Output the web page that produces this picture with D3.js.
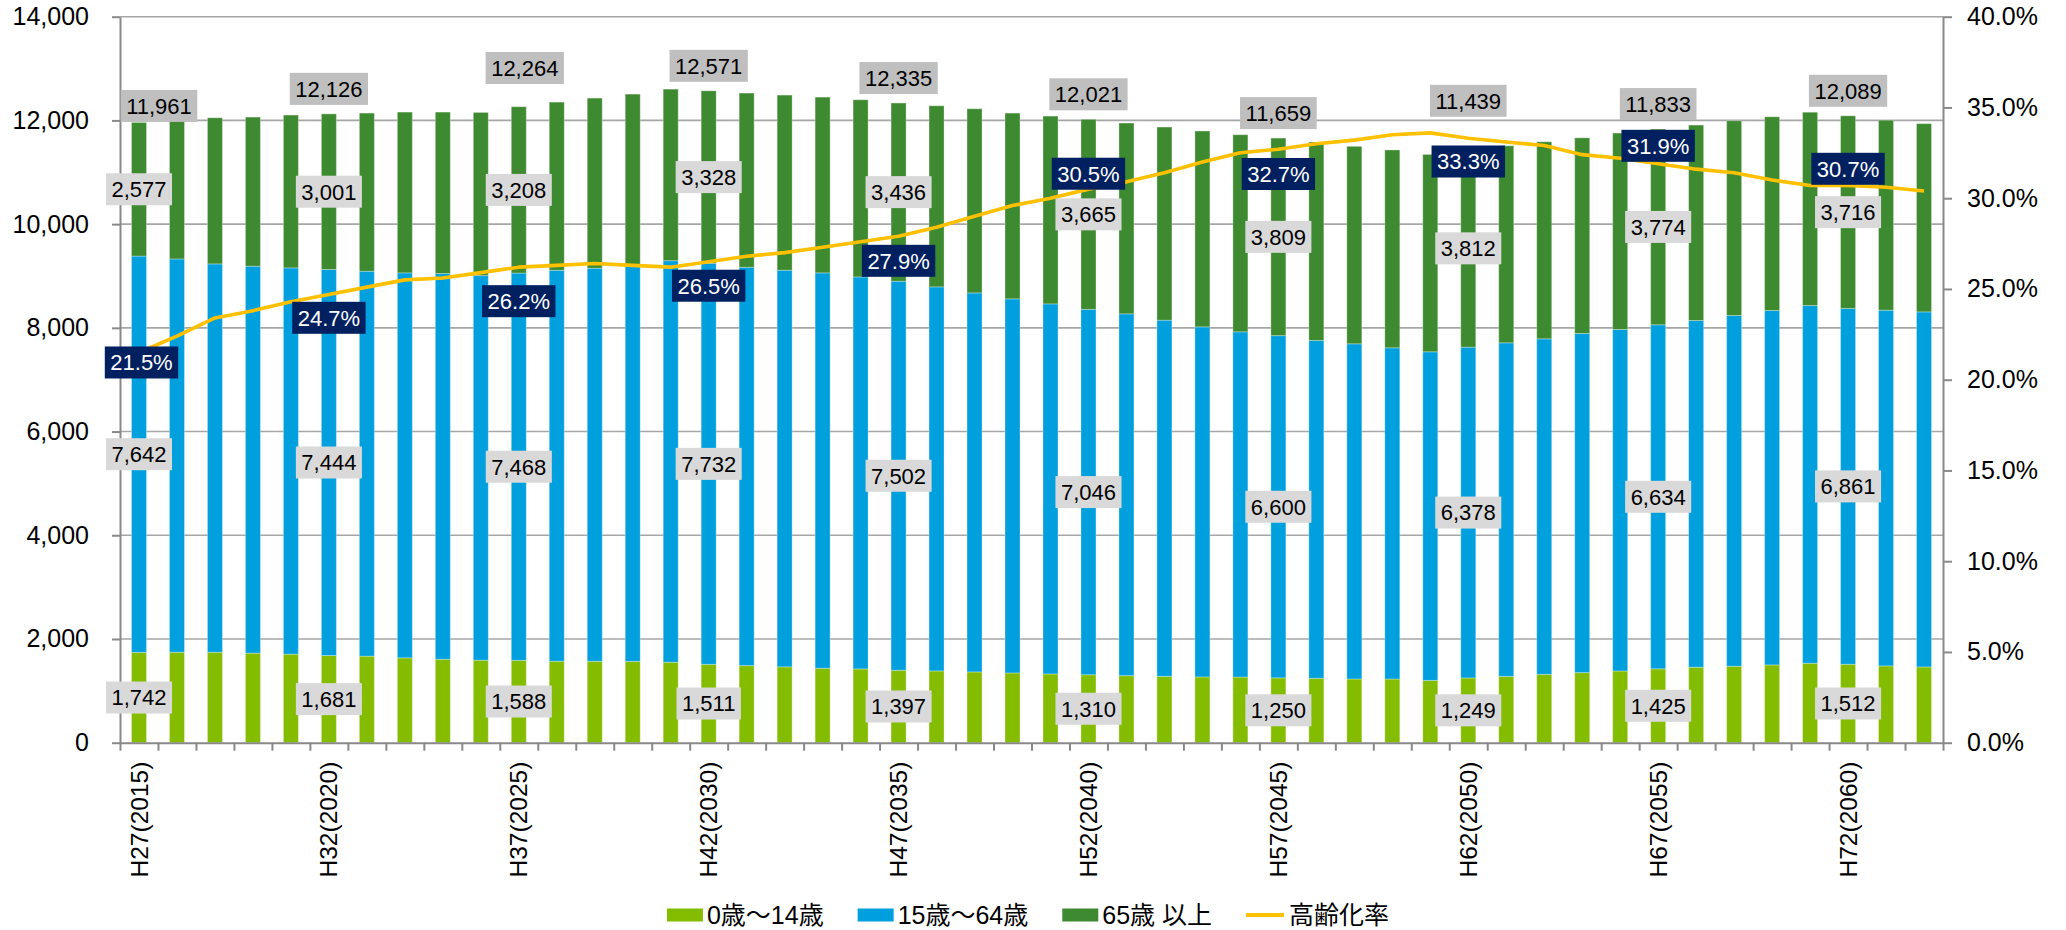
<!DOCTYPE html>
<html>
<head>
<meta charset="utf-8">
<script src="https://cdn.jsdelivr.net/npm/d3@7"></script>
<style>
  body { margin: 0; background: #fff; }
  text { font-family: "Liberation Sans", Arial, "Noto Sans CJK JP", sans-serif; }
</style>
</head>
<body>
<div id="chart"></div>
<script>
// data (people / %)
var years = [2015, 2016, 2017, 2018, 2019, 2020, 2021, 2022, 2023, 2024,
             2025, 2026, 2027, 2028, 2029, 2030, 2031, 2032, 2033, 2034,
             2035, 2036, 2037, 2038, 2039, 2040, 2041, 2042, 2043, 2044,
             2045, 2046, 2047, 2048, 2049, 2050, 2051, 2052, 2053, 2054,
             2055, 2056, 2057, 2058, 2059, 2060, 2061, 2062];

var age0to14 = [1742, 1745, 1745, 1727, 1708, 1681, 1669, 1636, 1610, 1591,
                1588, 1571, 1570, 1568, 1552, 1511, 1487, 1462, 1436, 1423,
                1397, 1384, 1365, 1345, 1326, 1310, 1293, 1280, 1268, 1266,
                1250, 1242, 1229, 1228, 1201, 1249, 1279, 1318, 1351, 1383,
                1425, 1455, 1474, 1500, 1532, 1512, 1481, 1461];

var age15to64 = [7642, 7584, 7488, 7461, 7448, 7444, 7423, 7424, 7437, 7417,
                 7468, 7539, 7580, 7634, 7743, 7732, 7682, 7649, 7624, 7559,
                 7502, 7406, 7309, 7214, 7136, 7046, 6977, 6868, 6751, 6657,
                 6600, 6514, 6463, 6387, 6337, 6378, 6432, 6470, 6540, 6585,
                 6634, 6686, 6764, 6834, 6898, 6861, 6859, 6847];

var age65over = [2577, 2670, 2818, 2876, 2947, 3001, 3049, 3100, 3113, 3146,
                 3208, 3243, 3280, 3305, 3308, 3328, 3358, 3377, 3389, 3416,
                 3436, 3492, 3551, 3582, 3621, 3665, 3679, 3724, 3776, 3801,
                 3809, 3827, 3808, 3815, 3806, 3812, 3800, 3800, 3773, 3788,
                 3774, 3769, 3755, 3736, 3728, 3716, 3664, 3630];

var agingRate = [21.5, 22.4, 23.4, 23.8, 24.3, 24.7, 25.1, 25.5, 25.6, 25.9,
                 26.2, 26.3, 26.4, 26.3, 26.2, 26.5, 26.8, 27.0, 27.3, 27.6,
                 27.9, 28.4, 29.0, 29.6, 30.0, 30.5, 30.9, 31.4, 32.0, 32.5,
                 32.7, 33.0, 33.2, 33.5, 33.6, 33.3, 33.1, 32.9, 32.4, 32.2,
                 31.9, 31.6, 31.4, 31.0, 30.7, 30.7, 30.6, 30.4];

// every fifth year gets an axis label and data labels
var labelYears = [2015, 2020, 2025, 2030, 2035, 2040, 2045, 2050, 2055, 2060];
var tickLabels = ["H27(2015)", "H32(2020)", "H37(2025)", "H42(2030)", "H47(2035)",
                  "H52(2040)", "H57(2045)", "H62(2050)", "H67(2055)", "H72(2060)"];

var seriesNames = ["0歳～14歳", "15歳～64歳", "65歳 以上", "高齢化率"];
var leftTicks = [0, 2000, 4000, 6000, 8000, 10000, 12000, 14000];
var rightTicks = [0, 0.05, 0.10, 0.15, 0.20, 0.25, 0.30, 0.35, 0.40];

// hand-moved labels (offsets from default spot, px)
var totalLabelDx = [20, 0, 6, 0, 0, 0, 0, 0, 0, 0];
var totalLabelDy = [-16.5, -25, -38.7, -25, -25, -25, -25, -48.7, -25, -25];
var rateLabelDx = [2.5, 0, 0, 0, 0, 0, 0, 0, 0, 0];
var rateLabelDy = [10, 23.4, 34, 24, 24.5, -15.4, 24.8, 23.2, -17.9, -16.7];

var colors = {a0: "#84BD00", a15: "#00A0DF", a65: "#3E8A30", rate: "#FFC000"};

// Step 1: svg canvas
var svgWidth = 2066;
var svgHeight = 930;
var margin = {top: 16.7, right: 123, bottom: 187.3, left: 120};
var width = svgWidth - margin.left - margin.right;
var height = svgHeight - margin.top - margin.bottom;

var svg = d3.select("#chart").append("svg")
  .attr("width", svgWidth)
  .attr("height", svgHeight);

var chartGroup = svg.append("g")
  .attr("transform", `translate(${margin.left}, ${margin.top})`);

// Step 2: table for the stack
var table = years.map(function(yr, i) {
  return {year: yr, a0: age0to14[i], a15: age15to64[i], a65: age65over[i], rate: agingRate[i]};
});
var stacked = d3.stack().keys(["a0", "a15", "a65"])(table);

// Step 3: scales
var xBand = d3.scaleBand().domain(years).range([0, width])
  .paddingInner(0.605).paddingOuter(0.3025);
var xIdx = d3.scaleLinear().domain([0, years.length]).range([0, width]);
var yLeft = d3.scaleLinear().domain([0, 14000]).range([height, 0]);
var yRight = d3.scaleLinear().domain([0, 0.4]).range([height, 0]);
var cx = d => xBand(d) + xBand.bandwidth() / 2;

// gridlines
chartGroup.append("g").selectAll("line")
  .data(leftTicks.slice(1))
  .enter().append("line")
  .attr("x1", 0).attr("x2", width)
  .attr("y1", d => yLeft(d)).attr("y2", d => yLeft(d))
  .attr("stroke", "#A6A6A6").attr("stroke-width", 1.6);

// Step 4: bars
chartGroup.append("g").selectAll("g")
  .data(stacked)
  .enter().append("g")
  .attr("fill", d => colors[d.key])
  .selectAll("rect")
  .data(d => d)
  .enter().append("rect")
  .attr("x", d => xBand(d.data.year))
  .attr("width", xBand.bandwidth())
  .attr("y", d => yLeft(d[1]))
  .attr("height", d => yLeft(d[0]) - yLeft(d[1]))
  .attr("stroke", "rgba(255,255,255,0.3)")
  .attr("stroke-width", 1);

// Step 5: axes
function styleAxis(g) {
  g.select(".domain").attr("stroke", "#898989").attr("stroke-width", 2);
  g.selectAll(".tick line").attr("stroke", "#898989").attr("stroke-width", 2);
  g.selectAll("text").attr("fill", "#000").attr("font-size", 25)
    .attr("font-family", '"Liberation Sans", Arial, sans-serif');
}

chartGroup.append("g")
  .call(d3.axisLeft(yLeft).tickValues(leftTicks).tickFormat(d3.format(","))
    .tickSize(8).tickSizeOuter(0).tickPadding(23))
  .call(styleAxis);

chartGroup.append("g")
  .attr("transform", `translate(${width}, 0)`)
  .call(d3.axisRight(yRight).tickValues(rightTicks).tickFormat(d3.format(".1%"))
    .tickSize(9).tickSizeOuter(0).tickPadding(15))
  .call(styleAxis);

chartGroup.append("g")
  .attr("transform", `translate(0, ${height})`)
  .call(d3.axisBottom(xIdx).tickValues(d3.range(years.length + 1)).tickFormat("")
    .tickSize(8).tickSizeOuter(0))
  .call(styleAxis);

// rotated category labels
chartGroup.append("g").selectAll("text")
  .data(labelYears)
  .enter().append("text")
  .attr("transform", d => `translate(${cx(d)}, ${height + 19}) rotate(-90)`)
  .attr("dy", "0.35em")
  .attr("text-anchor", "end")
  .attr("font-size", 24.5)
  .attr("fill", "#000")
  .text((d, i) => tickLabels[i]);

// Step 6: rate line
var rateLine = d3.line()
  .x(d => cx(d.year))
  .y(d => yRight(d.rate / 100));

chartGroup.append("path")
  .datum(table)
  .attr("d", rateLine)
  .attr("fill", "none")
  .attr("stroke", colors.rate)
  .attr("stroke-width", 3.6)
  .attr("stroke-linejoin", "round");

// Step 7: data labels (grey / navy boxes)
var labelLayer = chartGroup.append("g");
var fmt = d3.format(",");

function boxLabel(x0, y0, txt, fill, color) {
  var g = labelLayer.append("g").attr("transform", `translate(${x0}, ${y0})`);
  var rect = g.append("rect");
  var t = g.append("text")
    .attr("text-anchor", "middle")
    .attr("dy", "0.36em")
    .attr("font-size", 22)
    .attr("fill", color)
    .text(txt);
  var w = t.node().getComputedTextLength() + 11;
  rect.attr("x", -w / 2).attr("y", -16).attr("width", w).attr("height", 32)
    .attr("fill", fill);
}

labelYears.forEach(function(yr, k) {
  var i = years.indexOf(yr);
  var d = table[i];
  var total = d.a0 + d.a15 + d.a65;
  var c = cx(yr);
  // segment labels, centred in each piece of the stack
  boxLabel(c, yLeft(d.a0 / 2), fmt(d.a0), "#D9D9D9", "#000");
  boxLabel(c, yLeft(d.a0 + d.a15 / 2), fmt(d.a15), "#D9D9D9", "#000");
  boxLabel(c, yLeft(d.a0 + d.a15 + d.a65 / 2), fmt(d.a65), "#D9D9D9", "#000");
  // total above the bar
  boxLabel(c + totalLabelDx[k], yLeft(total) + totalLabelDy[k], fmt(total), "#BFBFBF", "#000");
  // aging rate
  boxLabel(c + rateLabelDx[k], yRight(d.rate / 100) + rateLabelDy[k],
    d.rate.toFixed(1) + "%", "#002060", "#fff");
});

// Step 8: legend
var legend = svg.append("g");
var legendKeys = [colors.a0, colors.a15, colors.a65, colors.rate];
var lx = 0;
seriesNames.forEach(function(name, i) {
  var item = legend.append("g").attr("transform", `translate(${lx}, 0)`);
  if (i < 3) {
    item.append("rect").attr("x", 0).attr("y", -6.5).attr("width", 36).attr("height", 13)
      .attr("fill", legendKeys[i]);
  } else {
    item.append("line").attr("x1", 0).attr("x2", 38).attr("y1", 0).attr("y2", 0)
      .attr("stroke", legendKeys[i]).attr("stroke-width", 4);
  }
  var t = item.append("text")
    .attr("x", i < 3 ? 40 : 43)
    .attr("dy", "0.36em")
    .attr("font-size", 25)
    .attr("fill", "#000")
    .text(name);
  lx += (i < 3 ? 40 : 43) + t.node().getComputedTextLength() + 34;
});
var legendWidth = lx - 34;
legend.attr("transform", `translate(${1028 - legendWidth / 2}, 915)`);
</script>
</body>
</html>
